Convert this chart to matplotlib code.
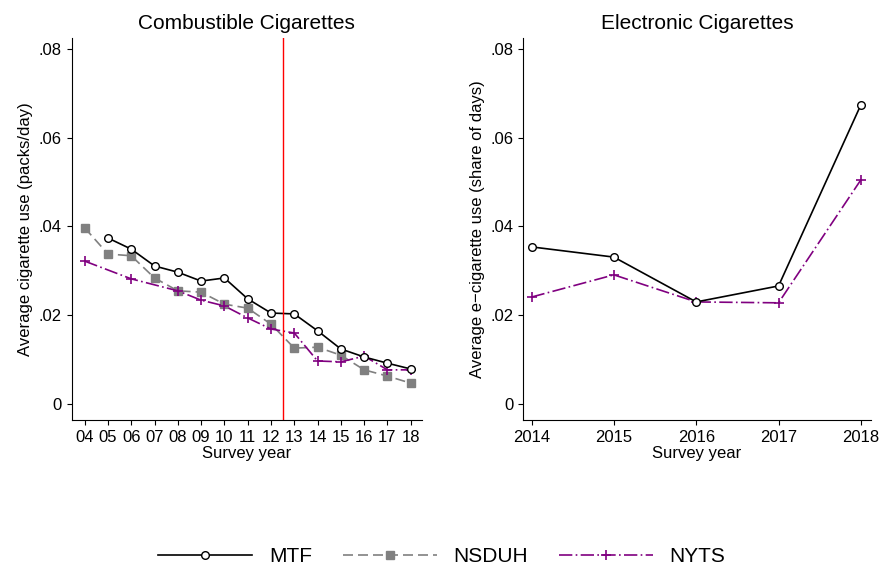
import numpy as np
import matplotlib.pyplot as plt
from matplotlib.lines import Line2D

plt.rcParams['font.family'] = ['Liberation Sans', 'DejaVu Sans']

# Combustible cigarettes (packs/day)
mtf_years = [5, 6, 7, 8, 9, 10, 11, 12, 13, 14, 15, 16, 17, 18]
mtf_cig = [0.0374, 0.0349, 0.0311, 0.0297, 0.0277, 0.0284, 0.0237, 0.0205,
           0.0203, 0.0165, 0.0124, 0.0106, 0.0092, 0.0079]
nsduh_years = list(range(4, 19))
nsduh_cig = [0.0397, 0.0338, 0.0334, 0.0284, 0.0255, 0.0252, 0.0225, 0.0216,
             0.0180, 0.0126, 0.0128, 0.0110, 0.0077, 0.0063, 0.0047]
nyts_years = [4, 6, 8, 9, 10, 11, 12, 13, 14, 15, 16, 17, 18]
nyts_cig = [0.0322, 0.0282, 0.0255, 0.0234, 0.0221, 0.0194, 0.0169, 0.0160,
            0.0097, 0.0095, 0.0108, 0.0077, 0.0077]

# Electronic cigarettes (share of days)
ecig_years = [2014, 2015, 2016, 2017, 2018]
mtf_ecig = [0.0354, 0.0331, 0.0230, 0.0266, 0.0674]
nyts_ecig = [0.0241, 0.0291, 0.0230, 0.0228, 0.0505]

year_labels = ['04', '05', '06', '07', '08', '09', '10', '11', '12', '13',
               '14', '15', '16', '17', '18']
yticks = [0, 0.02, 0.04, 0.06, 0.08]
ylabels = ['0', '.02', '.04', '.06', '.08']

purple = '#800080'
grey = '#808080'

fig = plt.figure(figsize=(8.84, 5.73), dpi=100)
ax1 = fig.add_axes([0.081, 0.267, 0.396, 0.667])
ax2 = fig.add_axes([0.592, 0.267, 0.393, 0.667])

mtf_style = dict(color='black', lw=1.2, marker='o', ms=5.5, mfc='white', mec='black')
nsduh_style = dict(color=grey, lw=1.2, ls=(0, (6, 3)), marker='s', ms=5.5, mfc=grey, mec=grey)
nyts_style = dict(color=purple, lw=1.2, ls=(0, (8, 2, 1, 2)), marker='+', ms=7, mew=1.2)

ax1.plot(nsduh_years, nsduh_cig, **nsduh_style)
ax1.plot(nyts_years, nyts_cig, **nyts_style)
ax1.plot(mtf_years, mtf_cig, **mtf_style)
ax1.axvline(12.5, color='red', lw=1)
ax1.set_xlim(3.44, 18.47)
ax1.set_xticks(range(4, 19))
ax1.set_xticklabels(year_labels)
ax1.set_ylabel('Average cigarette use (packs/day)', fontsize=12)
ax1.set_title('Combustible Cigarettes', fontsize=15)

ax2.plot(ecig_years, nyts_ecig, **nyts_style)
ax2.plot(ecig_years, mtf_ecig, **mtf_style)
ax2.set_xlim(2013.9, 2018.12)
ax2.set_xticks(ecig_years)
ax2.set_ylabel('Average e\u2212cigarette use (share of days)', fontsize=12)
ax2.set_title('Electronic Cigarettes', fontsize=15)

for ax in (ax1, ax2):
    ax.set_ylim(-0.0036, 0.0825)
    ax.set_yticks(yticks)
    ax.set_yticklabels(ylabels)
    ax.set_xlabel('Survey year', fontsize=12, labelpad=1)
    ax.spines['top'].set_visible(False)
    ax.spines['right'].set_visible(False)
    ax.tick_params(labelsize=12)

handles = [Line2D([], [], **mtf_style), Line2D([], [], **nsduh_style),
           Line2D([], [], **nyts_style)]
fig.legend(handles, ['MTF', 'NSDUH', 'NYTS'], loc='center', bbox_to_anchor=(0.5, 0.028),
           ncol=3, frameon=False, fontsize=15, handlelength=4.5, columnspacing=1.5,
           handletextpad=0.8)

fig.savefig('out.png', dpi=100)
